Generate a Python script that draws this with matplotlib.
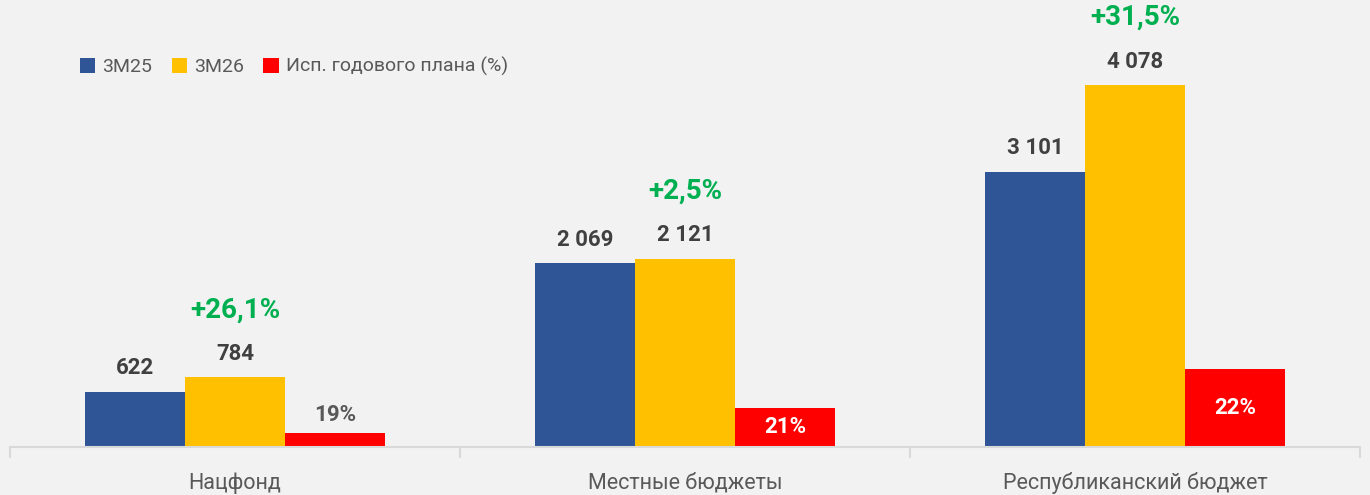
import matplotlib
matplotlib.use('Agg')
import matplotlib.pyplot as plt
import numpy as np

plt.rcParams['font.family'] = ['Roboto', 'DejaVu Sans']

# data
categories = ['Нацфонд', 'Местные бюджеты', 'Республиканский бюджет']
m25 = [622, 2069, 3101]
m26 = [784, 2121, 4078]
growth_labels = ['+26,1%', '+2,5%', '+31,5%']
plan_pct = [19, 21, 22]
# red bar heights as drawn on the chart's axis (not proportional to the %)
plan_bar = [158, 440, 880]

series_names = ['3M25', '3M26', 'Исп. годового плана (%)']
colors = ['#2F5597', '#FFC000', '#FF0000']

bg = '#F2F2F2'
dark = '#404040'
grey = '#595959'
green = '#00B050'

fig = plt.figure(figsize=(13.7, 4.95), dpi=100, facecolor=bg)
ax = fig.add_axes([10 / 1370, 48 / 495, 1350 / 1370, 437 / 495])
ax.set_facecolor(bg)

x = np.arange(len(categories))
w = 0.2222

ax.bar(x - w, m25, w, color=colors[0], label=series_names[0])
ax.bar(x, m26, w, color=colors[1], label=series_names[1])
ax.bar(x + w, plan_bar, w, color=colors[2], label=series_names[2])

ax.set_xlim(-0.5, 2.5)
ax.set_ylim(0, 4923)

def fmt(v):
    return f'{v:,}'.replace(',', ' ')

for i in range(len(categories)):
    ax.annotate(fmt(m25[i]), (x[i] - w, m25[i]), xytext=(0, 9), textcoords='offset points',
                ha='center', va='bottom', fontsize=16, fontweight='bold', color=dark)
    ax.annotate(fmt(m26[i]), (x[i], m26[i]), xytext=(0, 9), textcoords='offset points',
                ha='center', va='bottom', fontsize=16, fontweight='bold', color=dark)
    ax.annotate(growth_labels[i], (x[i], m26[i]), xytext=(0, 39), textcoords='offset points',
                ha='center', va='bottom', fontsize=20, fontweight='bold', color=green)
    if i == 0:
        ax.annotate(f'{plan_pct[i]}%', (x[i] + w, plan_bar[i]), xytext=(0, 5),
                    textcoords='offset points', ha='center', va='bottom',
                    fontsize=16, fontweight='bold', color=grey)
    else:
        ax.text(x[i] + w, plan_bar[i] / 2, f'{plan_pct[i]}%', ha='center', va='center',
                fontsize=16, fontweight='bold', color='white')

for s in ['top', 'right', 'left']:
    ax.spines[s].set_visible(False)
ax.spines['bottom'].set_color('#D9D9D9')
ax.spines['bottom'].set_linewidth(1.5)
ax.set_yticks([])

ax.set_xticks(x)
ax.set_xticklabels(categories, fontsize=15.5, color=grey)
ax.tick_params(axis='x', which='major', length=0, pad=18)
ax.set_xticks([-0.5, 0.5, 1.5, 2.5], minor=True)
ax.tick_params(axis='x', which='minor', length=8, width=1.5, color='#D9D9D9')

ax.legend(loc='upper left', bbox_to_anchor=(0.046, 0.91), ncol=3, frameon=False,
          fontsize=14, labelcolor=grey, handlelength=0.8, handleheight=0.8,
          handletextpad=0.35, columnspacing=1.0, borderaxespad=0)

fig.savefig('out.png', dpi=100, facecolor=bg)
